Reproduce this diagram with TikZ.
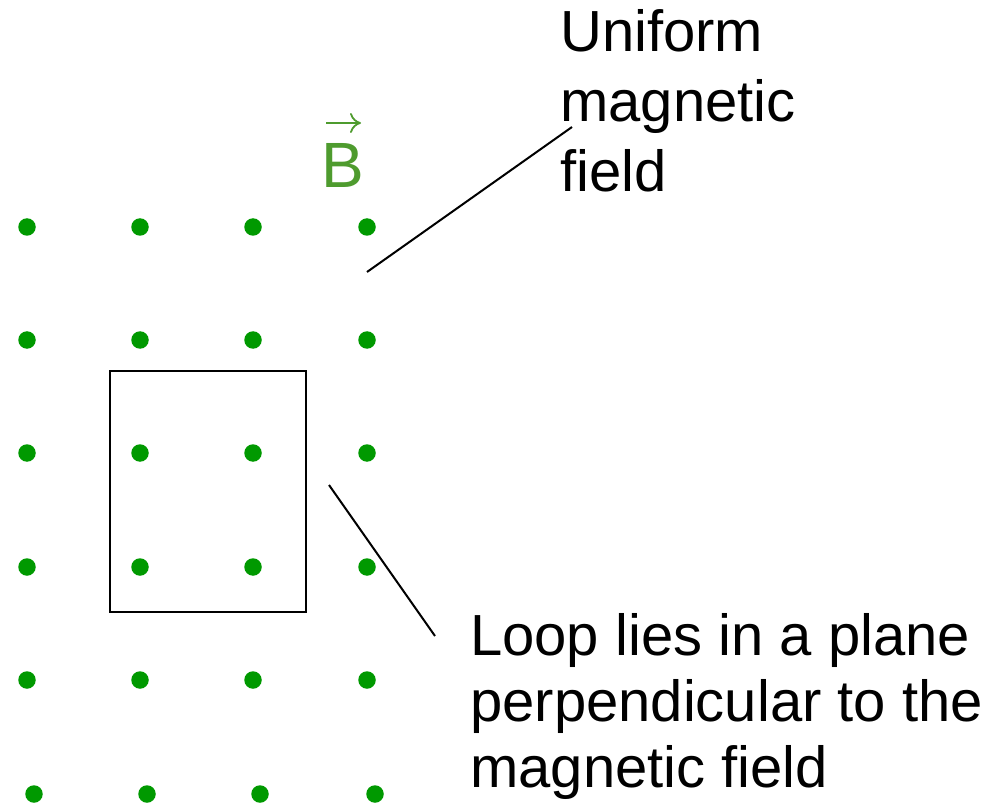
\documentclass[tikz,border=0pt]{standalone}
\usepackage{fontspec}
\setmainfont{Liberation Sans}
\usetikzlibrary{arrows.meta}
\definecolor{dotgreen}{RGB}{0,153,0}
\definecolor{bgreen}{RGB}{78,155,46}
\begin{document}
\begin{tikzpicture}[x=1pt,y=-1pt,
  fielddot/.style={circle,fill=dotgreen,inner sep=0pt,minimum size=17.5pt},
  label/.style={inner sep=0pt,align=left,anchor=base west},
  leader/.style={line width=2pt,black}]
\useasboundingbox (0,0) rectangle (996,810);
% dots
\foreach \y [count=\j] in {227,340,453,567,680}{
  \foreach \x [count=\i] in {27,140,253,367}{
    \node[fielddot] (d\i\j) at (\x,\y) {};
  }
}
\foreach \x [count=\i] in {34,147,260,375}{
  \node[fielddot] (d\i6) at (\x,794) {};
}
% B vector
\node[inner sep=0pt,anchor=base west,text=bgreen,font=\fontsize{64}{64}\selectfont] (B) at (321,188) {B};
\coordinate (bs) at (326,123);
\coordinate (be) at (361,123);
\draw[bgreen,line width=1.8pt,-{To[length=11pt,width=20pt]}] (bs) -- (be);
% loop
\draw[line width=1.8pt] (110,371) rectangle (306,612);
% labels
\node[label,font=\fontsize{58}{70}\selectfont] (t1) at (560,192) {Uniform\\magnetic\\field};
\node[label,font=\fontsize{58}{66}\selectfont] (t2) at (470,787) {Loop lies in a plane\\perpendicular to the\\magnetic field};
% leaders
\coordinate (a1) at (367,272);
\coordinate (a2) at (572,127);
\draw[leader] (a1) -- (a2);
\coordinate (c1) at (329,485);
\coordinate (c2) at (435,636);
\draw[leader] (c1) -- (c2);
\end{tikzpicture}
\end{document}
